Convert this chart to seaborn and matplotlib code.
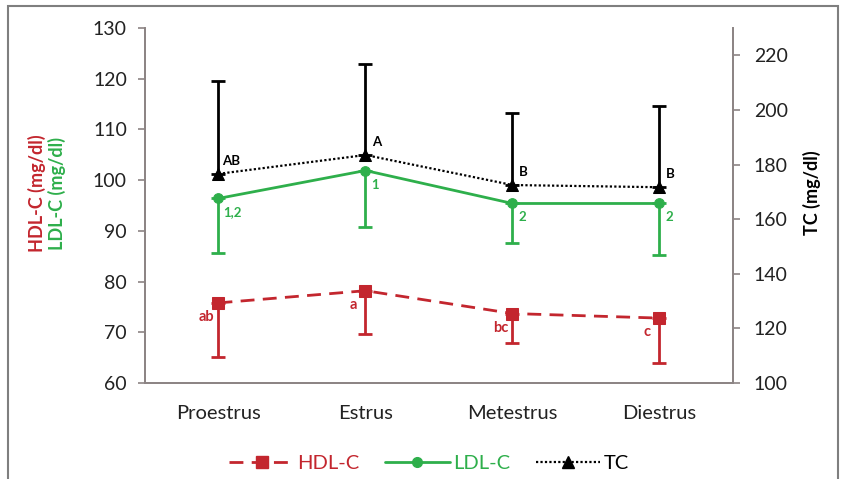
import matplotlib
matplotlib.use("Agg")
import matplotlib.pyplot as plt
from matplotlib.lines import Line2D
from matplotlib.patches import Rectangle
import seaborn as sns
import pandas as pd

categories = ["Proestrus", "Estrus", "Metestrus", "Diestrus"]
hdl = [75.8, 78.2, 73.7, 72.8]
hdl_err_low = [10.6, 8.5, 5.9, 8.8]
ldl = [96.4, 101.9, 95.4, 95.4]
ldl_err_low = [10.8, 11.2, 7.7, 10.2]
tc = [176.6, 183.5, 172.5, 171.7]
tc_err_up = [34.1, 33.3, 26.4, 29.6]
hdl_labels = ["ab", "a", "bc", "c"]
ldl_labels = ["1,2", "1", "2", "2"]
tc_labels = ["AB", "A", "B", "B"]
left_ticks = [60, 70, 80, 90, 100, 110, 120, 130]
right_ticks = [100, 120, 140, 160, 180, 200, 220]

RED = "#C3262E"
GREEN = "#2EAF4B"
BLACK = "#000000"
AXC = "#8C8484"

sns.set_style("white")
plt.rcParams["font.family"] = ["Lato", "DejaVu Sans"]

fig = plt.figure(figsize=(8.43, 4.79), dpi=100)
ax = fig.add_axes([0.172, 0.2004, 0.6975, 0.7411])
ax2 = ax.twinx()

df = pd.DataFrame({"stage": categories, "hdl": hdl, "ldl": ldl, "tc": tc})
xs = list(range(len(categories)))

sns.lineplot(data=df, x="stage", y="hdl", ax=ax, sort=False, color=RED,
             marker="s", markersize=8.5, markeredgecolor=RED, linewidth=2,
             linestyle=(0, (5, 3)), zorder=3)
ax.errorbar(xs, hdl, yerr=[hdl_err_low, [0] * 4], fmt="none", ecolor=RED,
            elinewidth=2, capsize=5, capthick=2, zorder=2)

sns.lineplot(data=df, x="stage", y="ldl", ax=ax, sort=False, color=GREEN,
             marker="o", markersize=7, markeredgecolor=GREEN, linewidth=2,
             zorder=3)
ax.errorbar(xs, ldl, yerr=[ldl_err_low, [0] * 4], fmt="none", ecolor=GREEN,
            elinewidth=2, capsize=5, capthick=2, zorder=2)

sns.lineplot(data=df, x="stage", y="tc", ax=ax2, sort=False, color=BLACK,
             marker="^", markersize=8.5, markeredgecolor=BLACK, linewidth=1.6,
             linestyle=(0, (1, 1.0)), zorder=3)
ax2.errorbar(xs, tc, yerr=[[0] * 4, tc_err_up], fmt="none", ecolor=BLACK,
             elinewidth=2, capsize=5, capthick=2, zorder=2)

ax.set_xlim(-0.5, 3.5)
ax.set_ylim(60, 130)
ax2.set_ylim(100, 230)
ax.set_yticks(left_ticks)
ax2.set_yticks(right_ticks)
ax.set_xticks(xs)
ax.set_xticklabels(categories)
ax.set_xticks([-0.5, 0.5, 1.5, 2.5, 3.5], minor=True)
ax.tick_params(axis="x", which="major", length=0, pad=16, labelsize=14.5, labelcolor="#222222")
ax.tick_params(axis="x", which="minor", length=5, color=AXC, width=1.2, direction="inout")
ax.tick_params(axis="y", length=5, color=AXC, width=1.2, labelsize=14, labelcolor="#222222", pad=8)
ax2.tick_params(axis="y", length=5, color=AXC, width=1.2, labelsize=14, labelcolor="#222222", pad=10)
ax.set_xlabel("")
ax.set_ylabel("")
ax2.set_ylabel("")
for a in (ax, ax2):
    a.spines["top"].set_visible(False)
    for s in ("left", "right", "bottom"):
        a.spines[s].set_color(AXC)
        a.spines[s].set_linewidth(1.3)
    a.grid(False)
    a.set_facecolor("none")

for i in xs:
    ax2.annotate(tc_labels[i], (i, tc[i]), xytext=(13 if len(tc_labels[i]) > 1 else 11, 13),
                 textcoords="offset pixels", ha="center", va="center", fontsize=9.5,
                 fontweight="bold", color=BLACK)
    ax.annotate(ldl_labels[i], (i, ldl[i]), xytext=(14 if len(ldl_labels[i]) > 1 else 10, -14),
                textcoords="offset pixels", ha="center", va="center", fontsize=9.5,
                fontweight="bold", color=GREEN)
    ax.annotate(hdl_labels[i], (i, hdl[i]), xytext=(-12, -14), textcoords="offset pixels",
                ha="center", va="center", fontsize=10.5, fontweight="bold", color=RED)

fig.text(37 / 843, 1 - 193 / 479, "HDL-C (mg/dl)", rotation=90, ha="center", va="center",
         fontsize=13, fontweight="bold", color=RED)
fig.text(57 / 843, 1 - 193 / 479, "LDL-C (mg/dl)", rotation=90, ha="center", va="center",
         fontsize=13, fontweight="bold", color=GREEN)
fig.text(812 / 843, 1 - 193 / 479, "TC (mg/dl)", rotation=90, ha="center", va="center",
         fontsize=13, fontweight="bold", color=BLACK)

handles = [
    Line2D([], [], color=RED, lw=2, linestyle=(0, (5, 3)), marker="s", markersize=8.5),
    Line2D([], [], color=GREEN, lw=2, marker="o", markersize=7),
    Line2D([], [], color=BLACK, lw=1.6, linestyle=(0, (1, 1.0)), marker="^", markersize=8.5),
]
leg = fig.legend(handles, ["HDL-C", "LDL-C", "TC"], loc="center", ncol=3,
                 bbox_to_anchor=(429 / 843, 1 - 463 / 479), frameon=False, fontsize=14.5,
                 handlelength=3.2, columnspacing=1.3, handletextpad=0.15)
for t, c in zip(leg.get_texts(), [RED, GREEN, BLACK]):
    t.set_color(c)

fig.patches.append(Rectangle((8 / 843, -0.05), 830 / 843, 1.05 - 6 / 479,
                             transform=fig.transFigure, fill=False, edgecolor="#7F7F7F",
                             linewidth=1.5))

fig.savefig("out.png", dpi=100)
